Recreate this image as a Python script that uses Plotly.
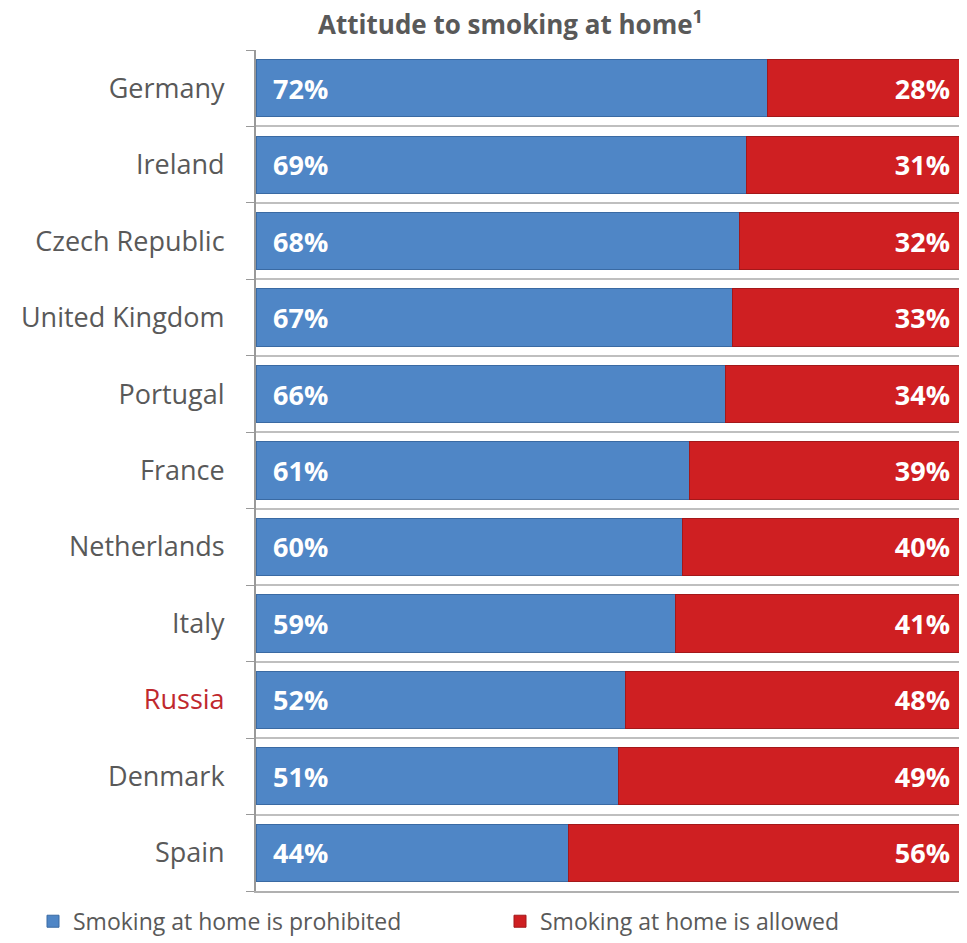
import plotly.graph_objects as go

# 데이터
countries = ['Germany', 'Ireland', 'Czech Republic', 'United Kingdom', 'Portugal', 'France',
             'Netherlands', 'Italy', 'Russia', 'Denmark', 'Spain']
prohibited = [72, 69, 68, 67, 66, 61, 60, 59, 52, 51, 44]
allowed = [28, 31, 32, 33, 34, 39, 40, 41, 48, 49, 56]
series_names = ['Smoking at home is prohibited', 'Smoking at home is allowed']

# 러시아만 빨간색으로 표시
tick_labels = ['<span style="color:#c0282d">' + c + '</span>' if c == 'Russia' else c for c in countries]

pad = '\u00a0\u00a0'

fig = go.Figure()

fig.add_trace(go.Bar(
    name=series_names[0], y=countries, x=prohibited, orientation='h',
    marker=dict(color='#4f86c6', line=dict(color='#3a6aa3', width=1)),
    text=[f'{pad}{v}%' for v in prohibited], textposition='inside', insidetextanchor='start',
    textfont=dict(color='white', size=27, family='Open Sans', weight='bold'),
))
fig.add_trace(go.Bar(
    name=series_names[1], y=countries, x=allowed, orientation='h',
    marker=dict(color='#cf1f22', line=dict(color='#a3181a', width=1)),
    text=[f'{v}%{pad}' for v in allowed], textposition='inside', insidetextanchor='end',
    textfont=dict(color='white', size=27, family='Open Sans', weight='bold'),
))

# 페이지 여백(8px)을 고려한 크기
fig.update_layout(
    barmode='stack',
    bargap=0.25,
    width=959, height=935,
    margin=dict(l=248, r=0, t=42, b=47),
    paper_bgcolor='white', plot_bgcolor='white',
    font=dict(family='Open Sans', color='#595959'),
    title=dict(text='<b>Attitude to smoking at home<sup>1</sup></b>', x=0.524, xanchor='center',
               y=0.982, yanchor='middle', font=dict(size=26, color='#595959')),
    xaxis=dict(range=[0, 100], showticklabels=False, showgrid=False, zeroline=False,
               showline=True, linecolor='#b0b0b0', linewidth=2, fixedrange=True),
    yaxis=dict(categoryorder='array', categoryarray=countries, autorange='reversed',
               tickvals=countries, ticktext=tick_labels, tickfont=dict(size=27, color='#595959'),
               tickson='boundaries', ticks='outside', ticklen=8, tickcolor='#999999',
               showgrid=True, gridcolor='#bfbfbf', gridwidth=2,
               showline=True, linecolor='#999999', linewidth=2, ticklabelstandoff=24),
    legend=dict(orientation='h', traceorder='normal', x=-0.118, xanchor='left',
                y=-0.036, yanchor='middle', entrywidth=422, itemwidth=30,
                font=dict(size=23, color='#595959'), bgcolor='rgba(0,0,0,0)'),
    showlegend=True,
)

fig.write_html("out.html")
